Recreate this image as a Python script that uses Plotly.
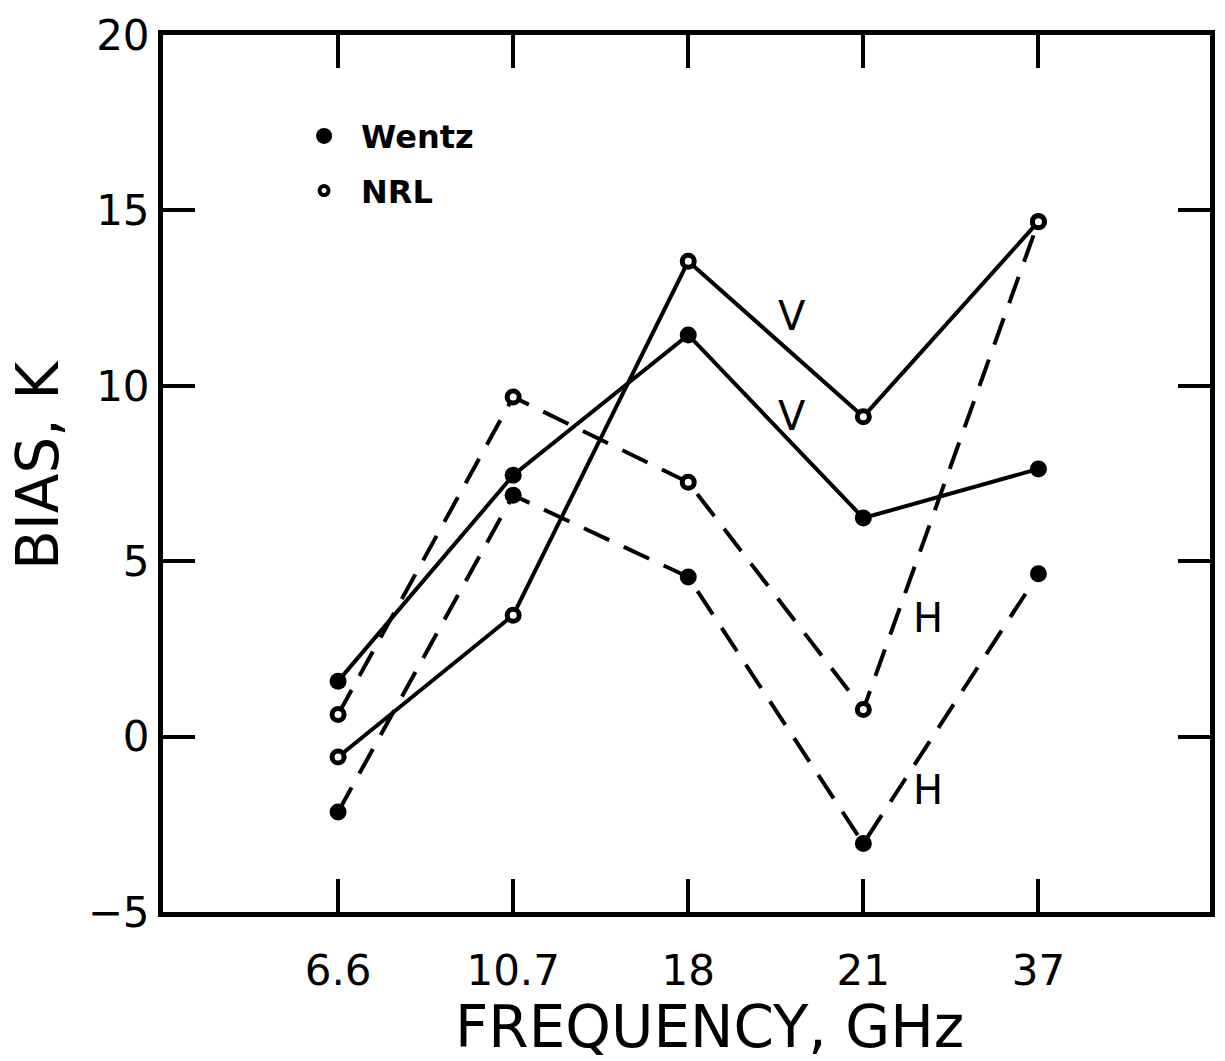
import plotly.graph_objects as go

# Frequencies (GHz) shown as evenly spaced categories
frequencies = ["6.6", "10.7", "18", "21", "37"]

# Brightness-temperature bias (K) per channel
wentz_v = [1.58, 7.45, 11.45, 6.23, 7.63]
wentz_h = [-2.15, 6.88, 4.55, -3.05, 4.64]
nrl_v = [-0.58, 3.46, 13.55, 9.12, 14.68]
nrl_h = [0.63, 9.68, 7.25, 0.77, 14.68]

y_ticks = [-5, 0, 5, 10, 15, 20]

FONT = "DejaVu Sans"
BLACK = "black"
x_idx = list(range(len(frequencies)))

filled = dict(symbol="circle", size=17, color=BLACK, line=dict(width=0))
hollow = dict(symbol="circle", size=12, color="white", line=dict(color=BLACK, width=5))

fig = go.Figure()

series = [
    (wentz_v, "solid", filled),
    (wentz_h, "28px,16px", filled),
    (nrl_v, "solid", hollow),
    (nrl_h, "28px,16px", hollow),
]
for vals, dash, marker in series:
    fig.add_trace(go.Scatter(
        x=x_idx, y=vals, mode="lines+markers",
        line=dict(color=BLACK, width=4, dash=dash),
        marker=marker, showlegend=False, cliponaxis=False,
    ))

# Legend entries: marker style identifies the source
fig.add_trace(go.Scatter(x=[None], y=[None], mode="markers", name="Wentz",
                         legendgroup="wentz",
                         marker=dict(symbol="circle", size=16, color=BLACK)))
fig.add_trace(go.Scatter(x=[None], y=[None], mode="markers", name="NRL",
                         legendgroup="nrl",
                         marker=dict(symbol="circle", size=9, color="white",
                                     line=dict(color=BLACK, width=4))))

# Polarisation labels next to the curves
pol_labels = [
    ("V", 2.59, 12.0),
    ("V", 2.59, 9.15),
    ("H", 3.37, 3.38),
    ("H", 3.37, -1.52),
]
for txt, xv, yv in pol_labels:
    fig.add_annotation(x=xv, y=yv, text=txt, showarrow=False,
                       font=dict(family=FONT, size=40, color=BLACK))

# Axis titles
fig.add_annotation(x=0.522, y=-0.131, xref="paper", yref="paper",
                   text="FREQUENCY, GHz", showarrow=False,
                   xanchor="center", yanchor="middle",
                   font=dict(family=FONT, size=58, color=BLACK))
fig.add_annotation(x=-0.120, y=0.51, xref="paper", yref="paper",
                   text="BIAS, K", showarrow=False, textangle=-90,
                   xanchor="center", yanchor="middle",
                   font=dict(family=FONT, size=58, color=BLACK))

fig.update_layout(
    width=1225, height=1061,
    margin=dict(l=163, r=10, t=35, b=149),
    paper_bgcolor="white", plot_bgcolor="white",
    font=dict(family=FONT, color=BLACK),
    showlegend=True,
    legend=dict(x=0.1185, y=0.916, xanchor="left", yanchor="top",
                bgcolor="rgba(0,0,0,0)", borderwidth=0,
                font=dict(family=FONT, size=32, color=BLACK, weight="bold"),
                traceorder="grouped", tracegroupgap=10, itemwidth=64),
)

fig.update_xaxes(
    range=[-1.0, 4.98],
    tickmode="array", tickvals=x_idx, ticktext=frequencies,
    ticks="inside", ticklen=33, tickwidth=4, tickcolor=BLACK,
    showline=True, linewidth=5, linecolor=BLACK, mirror="ticks",
    showgrid=False, zeroline=False,
    tickfont=dict(family=FONT, size=42, color=BLACK),
    ticklabelstandoff=18,
)
fig.update_yaxes(
    range=[-5, 20],
    tickmode="array", tickvals=y_ticks,
    ticks="inside", ticklen=32, tickwidth=4, tickcolor=BLACK,
    showline=True, linewidth=5, linecolor=BLACK, mirror="ticks",
    showgrid=False, zeroline=False,
    tickfont=dict(family=FONT, size=42, color=BLACK),
    ticklabelstandoff=0,
)

fig.write_html("out.html")
